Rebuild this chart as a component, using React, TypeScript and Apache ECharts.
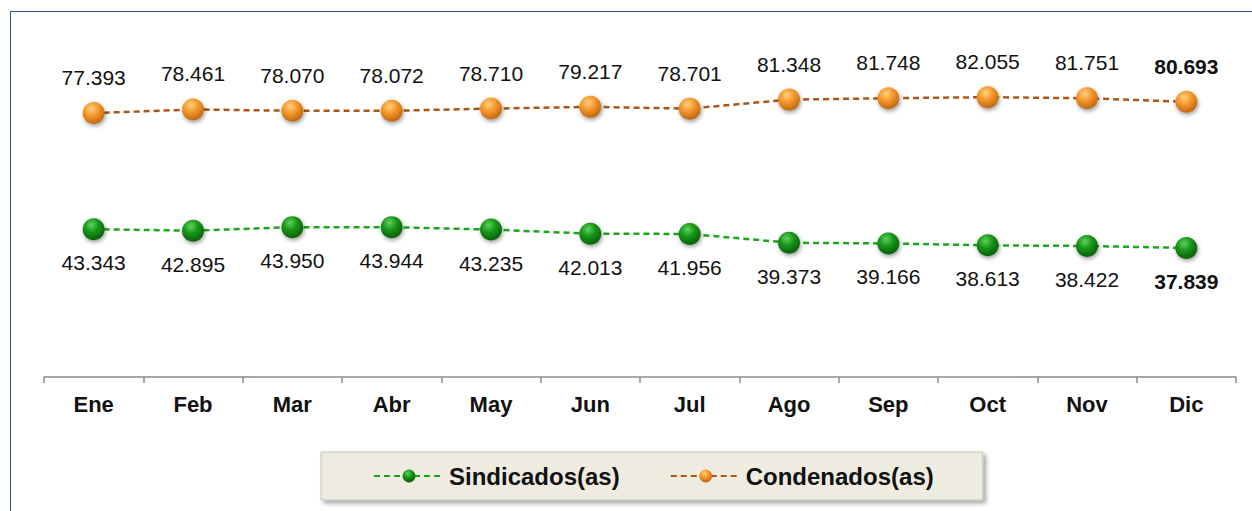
import React, { useEffect, useRef } from "react";
import * as echarts from "echarts";

const months = ["Ene", "Feb", "Mar", "Abr", "May", "Jun", "Jul", "Ago", "Sep", "Oct", "Nov", "Dic"];
const sindicados = [43.343, 42.895, 43.95, 43.944, 43.235, 42.013, 41.956, 39.373, 39.166, 38.613, 38.422, 37.839];
const condenados = [77.393, 78.461, 78.07, 78.072, 78.71, 79.217, 78.701, 81.348, 81.748, 82.055, 81.751, 80.693];

const fmt = (v: number) => v.toFixed(3);

const sphere = (light: string, mid: string, dark: string) =>
  new echarts.graphic.RadialGradient(0.4, 0.3, 0.75, [
    { offset: 0, color: light },
    { offset: 0.45, color: mid },
    { offset: 1, color: dark },
  ]);

export default function App() {
  const ref = useRef<HTMLDivElement>(null);
  useEffect(() => {
    const chart = echarts.init(ref.current!, null, { renderer: "svg" });
    const font = "Arial, 'Liberation Sans', sans-serif";
    const lastIdx = months.length - 1;
    const mkLabel = (pos: "top" | "bottom", dist: number) => ({
      show: true,
      position: pos,
      distance: dist,
      fontSize: 21,
      fontFamily: font,
      color: "#111",
      formatter: (p: any) => fmt(p.value),
    });
    const mkData = (arr: number[]) =>
      arr.map((v, i) =>
        i === lastIdx ? { value: v, label: { fontWeight: "bold" } } : v
      );
    chart.setOption({
      animation: false,
      backgroundColor: "#ffffff",
      textStyle: { fontFamily: font },
      graphic: [
        {
          type: "rect",
          shape: { x: 10.5, y: 11.5, width: 1260, height: 520 },
          style: { fill: "none", stroke: "#2d5592", lineWidth: 1 },
          silent: true,
          z: -1,
        },
      ],
      grid: { left: 44, right: 16, top: 36, height: 341 },
      xAxis: {
        type: "category",
        data: months,
        boundaryGap: true,
        axisLine: { lineStyle: { color: "#8c8c8c", width: 1.5 } },
        axisTick: { show: true, length: 6, lineStyle: { color: "#8c8c8c", width: 1.5 } },
        axisLabel: { fontSize: 22, fontWeight: "bold", color: "#111", margin: 16, fontFamily: font },
      },
      yAxis: {
        type: "value",
        min: 0,
        max: 100,
        show: false,
        splitLine: { show: false },
      },
      legend: {
        left: 321,
        top: 452,
        padding: [12, 49, 12, 52],
        itemGap: 50,
        itemWidth: 70,
        itemHeight: 16,
        backgroundColor: "#eeece1",
        borderColor: "#c4c2b8",
        borderWidth: 1,
        borderRadius: 0,
        shadowColor: "rgba(0,0,0,0.35)",
        shadowBlur: 4,
        shadowOffsetX: 3,
        shadowOffsetY: 3,
        textStyle: { fontSize: 24, fontWeight: "bold", color: "#111", fontFamily: font },
        data: ["Sindicados(as)", "Condenados(as)"],
      },
      series: [
        {
          name: "Sindicados(as)",
          type: "line",
          data: mkData(sindicados),
          symbol: "circle",
          symbolSize: 22,
          lineStyle: { color: "#1ea51e", width: 2.5, type: [6, 4] },
          itemStyle: {
            color: sphere("#5fd35f", "#169416", "#0a5a0a"),
            shadowColor: "rgba(0,0,0,0.4)",
            shadowBlur: 4,
            shadowOffsetX: 1,
            shadowOffsetY: 2,
          },
          label: mkLabel("bottom", 12),
        },
        {
          name: "Condenados(as)",
          type: "line",
          data: mkData(condenados),
          symbol: "circle",
          symbolSize: 22,
          lineStyle: { color: "#a8561a", width: 2.5, type: [6, 4] },
          itemStyle: {
            color: sphere("#ffd080", "#f4962a", "#b8620e"),
            shadowColor: "rgba(0,0,0,0.4)",
            shadowBlur: 4,
            shadowOffsetX: 1,
            shadowOffsetY: 2,
          },
          label: mkLabel("top", 14),
        },
      ],
    });
    return () => chart.dispose();
  }, []);
  return (
    <div
      ref={ref}
      style={{ position: "fixed", left: 0, top: 0, width: 1252, height: 511, background: "#fff" }}
    />
  );
}
